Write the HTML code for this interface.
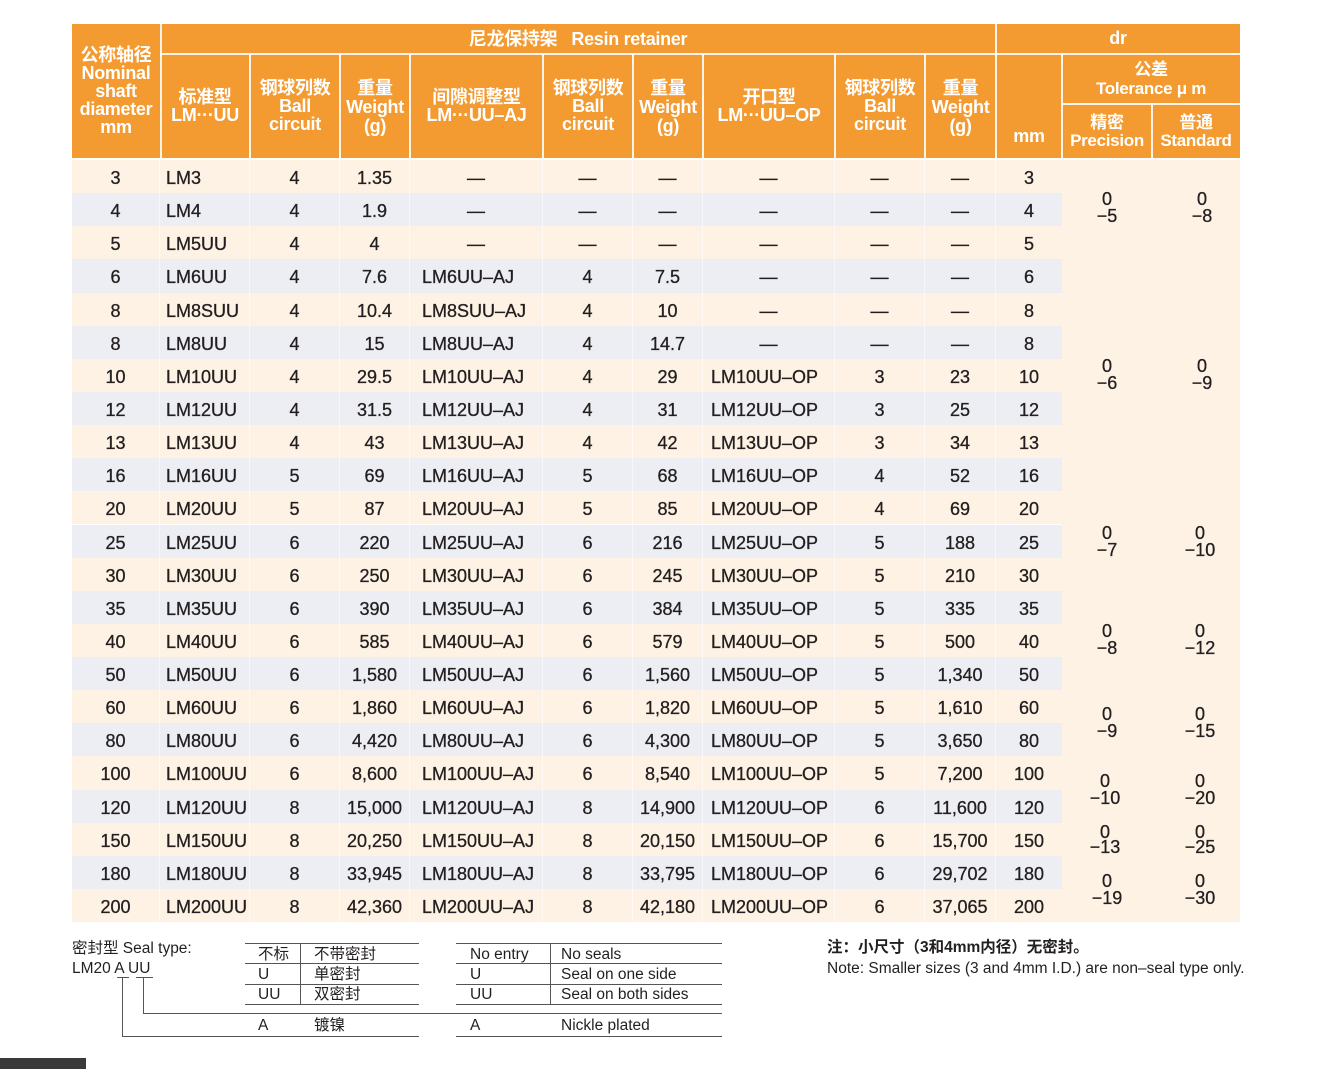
<!DOCTYPE html>
<html><head><meta charset="utf-8">
<style>
*{margin:0;padding:0;box-sizing:border-box}
html,body{width:1320px;height:1069px;background:#fff;overflow:hidden}
body{position:relative;font-family:"Liberation Sans","Noto Sans CJK SC",sans-serif;color:#231f20}
.a{position:absolute}
.hd{position:absolute;left:72px;top:24px;width:1168px;height:134px;background:#f39a30}
.wl{position:absolute;background:rgba(255,255,255,.9)}
.ht{position:absolute;color:#fff;font-weight:bold;font-size:18px;line-height:18px;text-align:center;white-space:nowrap;letter-spacing:-0.3px}
.r{position:absolute;left:72px;width:990px;height:33.14px;display:flex;font-size:18px;line-height:33px;-webkit-text-stroke:0.3px #231f20}
.r>div{flex:none;text-align:center;white-space:nowrap;border-right:1px solid rgba(255,255,255,.55);padding-top:2px}
.o{background:#fdf2e3}
.e{background:#eceef3}
.r>div:nth-child(1){width:88px}
.r>div:nth-child(2){width:90px;text-align:left;padding-left:6px}
.r>div:nth-child(3){width:90px}
.r>div:nth-child(4){width:70px}
.r>div:nth-child(5){width:133px;text-align:left;padding-left:12px}
.r>div:nth-child(6){width:90px}
.r>div:nth-child(7){width:70px}
.r>div:nth-child(8){width:132px;text-align:left;padding-left:8px}
.r>div:nth-child(9){width:90px}
.r>div:nth-child(10){width:71px}
.r>div:nth-child(11){width:66px;border-right:none}
.r>div.d{text-align:center;padding-left:0}
.tol{position:absolute;left:1062px;top:160px;width:178px;height:762px;background:#fdf2e4}
.tv{position:absolute;width:60px;font-size:18px;line-height:17px;text-align:center;-webkit-text-stroke:0.3px #231f20}
.ft{position:absolute;font-size:15.5px;line-height:16px;white-space:nowrap}
.hl{position:absolute;height:1px;background:#555}
.vl{position:absolute;width:1px;background:#555}
</style></head><body>

<div class="hd"></div>
<div class="wl" style="left:160px;top:24px;width:2px;height:134px"></div>
<div class="wl" style="left:160px;top:53px;width:1080px;height:2px"></div>
<div class="wl" style="left:995px;top:24px;width:2px;height:134px"></div>
<div class="wl" style="left:249px;top:54px;width:2px;height:104px"></div>
<div class="wl" style="left:339px;top:54px;width:2px;height:104px"></div>
<div class="wl" style="left:409px;top:54px;width:2px;height:104px"></div>
<div class="wl" style="left:542px;top:54px;width:2px;height:104px"></div>
<div class="wl" style="left:632px;top:54px;width:2px;height:104px"></div>
<div class="wl" style="left:702px;top:54px;width:2px;height:104px"></div>
<div class="wl" style="left:834px;top:54px;width:2px;height:104px"></div>
<div class="wl" style="left:924px;top:54px;width:2px;height:104px"></div>
<div class="wl" style="left:1061px;top:54px;width:2px;height:104px"></div>
<div class="wl" style="left:1062px;top:103px;width:178px;height:2px"></div>
<div class="wl" style="left:1151px;top:104px;width:2px;height:54px"></div>

<div class="ht" style="left:72px;width:88px;top:46px">公称轴径<br>Nominal<br>shaft<br>diameter<br>mm</div>
<div class="ht" style="left:160px;width:836px;top:30px">尼龙保持架&nbsp;&nbsp;&nbsp;Resin retainer</div>
<div class="ht" style="left:996px;width:244px;top:29px">dr</div>
<div class="ht" style="left:160px;width:90px;top:88px">标准型<br>LM···UU</div>
<div class="ht" style="left:250px;width:90px;top:79px">钢球列数<br>Ball<br>circuit</div>
<div class="ht" style="left:340px;width:70px;top:79px;line-height:19px">重量<br>Weight<br>(g)</div>
<div class="ht" style="left:410px;width:133px;top:88px">间隙调整型<br>LM···UU–AJ</div>
<div class="ht" style="left:543px;width:90px;top:79px">钢球列数<br>Ball<br>circuit</div>
<div class="ht" style="left:633px;width:70px;top:79px;line-height:19px">重量<br>Weight<br>(g)</div>
<div class="ht" style="left:703px;width:132px;top:88px">开口型<br>LM···UU–OP</div>
<div class="ht" style="left:835px;width:90px;top:79px">钢球列数<br>Ball<br>circuit</div>
<div class="ht" style="left:925px;width:71px;top:79px;line-height:19px">重量<br>Weight<br>(g)</div>
<div class="ht" style="left:996px;width:66px;top:127px">mm</div>
<div class="ht" style="left:1062px;width:178px;top:60px;line-height:19px;font-size:17px">公差<br>Tolerance μ m</div>
<div class="ht" style="left:1062px;width:90px;top:114px;font-size:17px">精密<br>Precision</div>
<div class="ht" style="left:1152px;width:88px;top:114px;font-size:17px">普通<br>Standard</div>

<div class="tol"></div>

<div class="r o" style="top:160px"><div>3</div><div>LM3</div><div>4</div><div>1.35</div><div class="d">—</div><div>—</div><div>—</div><div class="d">—</div><div>—</div><div>—</div><div>3</div></div>
<div class="r e" style="top:193.14px"><div>4</div><div>LM4</div><div>4</div><div>1.9</div><div class="d">—</div><div>—</div><div>—</div><div class="d">—</div><div>—</div><div>—</div><div>4</div></div>
<div class="r o" style="top:226.27px"><div>5</div><div>LM5UU</div><div>4</div><div>4</div><div class="d">—</div><div>—</div><div>—</div><div class="d">—</div><div>—</div><div>—</div><div>5</div></div>
<div class="r e" style="top:259.41px"><div>6</div><div>LM6UU</div><div>4</div><div>7.6</div><div>LM6UU–AJ</div><div>4</div><div>7.5</div><div class="d">—</div><div>—</div><div>—</div><div>6</div></div>
<div class="r o" style="top:292.55px"><div>8</div><div>LM8SUU</div><div>4</div><div>10.4</div><div>LM8SUU–AJ</div><div>4</div><div>10</div><div class="d">—</div><div>—</div><div>—</div><div>8</div></div>
<div class="r e" style="top:325.68px"><div>8</div><div>LM8UU</div><div>4</div><div>15</div><div>LM8UU–AJ</div><div>4</div><div>14.7</div><div class="d">—</div><div>—</div><div>—</div><div>8</div></div>
<div class="r o" style="top:358.82px"><div>10</div><div>LM10UU</div><div>4</div><div>29.5</div><div>LM10UU–AJ</div><div>4</div><div>29</div><div>LM10UU–OP</div><div>3</div><div>23</div><div>10</div></div>
<div class="r e" style="top:391.95px"><div>12</div><div>LM12UU</div><div>4</div><div>31.5</div><div>LM12UU–AJ</div><div>4</div><div>31</div><div>LM12UU–OP</div><div>3</div><div>25</div><div>12</div></div>
<div class="r o" style="top:425.09px"><div>13</div><div>LM13UU</div><div>4</div><div>43</div><div>LM13UU–AJ</div><div>4</div><div>42</div><div>LM13UU–OP</div><div>3</div><div>34</div><div>13</div></div>
<div class="r e" style="top:458.23px"><div>16</div><div>LM16UU</div><div>5</div><div>69</div><div>LM16UU–AJ</div><div>5</div><div>68</div><div>LM16UU–OP</div><div>4</div><div>52</div><div>16</div></div>
<div class="r o" style="top:491.36px"><div>20</div><div>LM20UU</div><div>5</div><div>87</div><div>LM20UU–AJ</div><div>5</div><div>85</div><div>LM20UU–OP</div><div>4</div><div>69</div><div>20</div></div>
<div class="r e" style="top:524.5px"><div>25</div><div>LM25UU</div><div>6</div><div>220</div><div>LM25UU–AJ</div><div>6</div><div>216</div><div>LM25UU–OP</div><div>5</div><div>188</div><div>25</div></div>
<div class="r o" style="top:557.64px"><div>30</div><div>LM30UU</div><div>6</div><div>250</div><div>LM30UU–AJ</div><div>6</div><div>245</div><div>LM30UU–OP</div><div>5</div><div>210</div><div>30</div></div>
<div class="r e" style="top:590.77px"><div>35</div><div>LM35UU</div><div>6</div><div>390</div><div>LM35UU–AJ</div><div>6</div><div>384</div><div>LM35UU–OP</div><div>5</div><div>335</div><div>35</div></div>
<div class="r o" style="top:623.91px"><div>40</div><div>LM40UU</div><div>6</div><div>585</div><div>LM40UU–AJ</div><div>6</div><div>579</div><div>LM40UU–OP</div><div>5</div><div>500</div><div>40</div></div>
<div class="r e" style="top:657.05px"><div>50</div><div>LM50UU</div><div>6</div><div>1,580</div><div>LM50UU–AJ</div><div>6</div><div>1,560</div><div>LM50UU–OP</div><div>5</div><div>1,340</div><div>50</div></div>
<div class="r o" style="top:690.18px"><div>60</div><div>LM60UU</div><div>6</div><div>1,860</div><div>LM60UU–AJ</div><div>6</div><div>1,820</div><div>LM60UU–OP</div><div>5</div><div>1,610</div><div>60</div></div>
<div class="r e" style="top:723.32px"><div>80</div><div>LM80UU</div><div>6</div><div>4,420</div><div>LM80UU–AJ</div><div>6</div><div>4,300</div><div>LM80UU–OP</div><div>5</div><div>3,650</div><div>80</div></div>
<div class="r o" style="top:756.45px"><div>100</div><div>LM100UU</div><div>6</div><div>8,600</div><div>LM100UU–AJ</div><div>6</div><div>8,540</div><div>LM100UU–OP</div><div>5</div><div>7,200</div><div>100</div></div>
<div class="r e" style="top:789.59px"><div>120</div><div>LM120UU</div><div>8</div><div>15,000</div><div>LM120UU–AJ</div><div>8</div><div>14,900</div><div>LM120UU–OP</div><div>6</div><div>11,600</div><div>120</div></div>
<div class="r o" style="top:822.73px"><div>150</div><div>LM150UU</div><div>8</div><div>20,250</div><div>LM150UU–AJ</div><div>8</div><div>20,150</div><div>LM150UU–OP</div><div>6</div><div>15,700</div><div>150</div></div>
<div class="r e" style="top:855.86px"><div>180</div><div>LM180UU</div><div>8</div><div>33,945</div><div>LM180UU–AJ</div><div>8</div><div>33,795</div><div>LM180UU–OP</div><div>6</div><div>29,702</div><div>180</div></div>
<div class="r o" style="top:889px"><div>200</div><div>LM200UU</div><div>8</div><div>42,360</div><div>LM200UU–AJ</div><div>8</div><div>42,180</div><div>LM200UU–OP</div><div>6</div><div>37,065</div><div>200</div></div>

<div class="tv" style="left:1077px;top:191px">0<br>−5</div>
<div class="tv" style="left:1172px;top:191px">0<br>−8</div>
<div class="tv" style="left:1077px;top:358px">0<br>−6</div>
<div class="tv" style="left:1172px;top:358px">0<br>−9</div>
<div class="tv" style="left:1077px;top:525px">0<br>−7</div>
<div class="tv" style="left:1170px;top:525px">0<br>−10</div>
<div class="tv" style="left:1077px;top:623px">0<br>−8</div>
<div class="tv" style="left:1170px;top:623px">0<br>−12</div>
<div class="tv" style="left:1077px;top:706px">0<br>−9</div>
<div class="tv" style="left:1170px;top:706px">0<br>−15</div>
<div class="tv" style="left:1075px;top:773px">0<br>−10</div>
<div class="tv" style="left:1170px;top:773px">0<br>−20</div>
<div class="tv" style="left:1075px;top:825px;line-height:15px">0<br>−13</div>
<div class="tv" style="left:1170px;top:825px;line-height:15px">0<br>−25</div>
<div class="tv" style="left:1077px;top:873px">0<br>−19</div>
<div class="tv" style="left:1170px;top:873px">0<br>−30</div>

<div class="ft" style="left:72px;top:941px">密封型 Seal type:</div>
<div class="ft" style="left:72px;top:961px">LM20 A UU</div>
<div class="hl" style="left:117px;top:977px;width:12px"></div>
<div class="hl" style="left:136px;top:977px;width:17px"></div>
<div class="vl" style="left:122px;top:977px;height:59px"></div>
<div class="vl" style="left:143px;top:977px;height:36px"></div>
<div class="hl" style="left:143px;top:1013px;width:579px"></div>
<div class="hl" style="left:122px;top:1036px;width:297px"></div>
<div class="hl" style="left:456px;top:1036px;width:266px"></div>

<div class="hl" style="left:245px;top:943px;width:174px"></div>
<div class="hl" style="left:245px;top:963px;width:174px"></div>
<div class="hl" style="left:245px;top:984px;width:174px"></div>
<div class="hl" style="left:245px;top:1004px;width:174px"></div>
<div class="vl" style="left:300px;top:943px;height:61px"></div>
<div class="hl" style="left:456px;top:943px;width:266px"></div>
<div class="hl" style="left:456px;top:963px;width:266px"></div>
<div class="hl" style="left:456px;top:984px;width:266px"></div>
<div class="hl" style="left:456px;top:1004px;width:266px"></div>
<div class="vl" style="left:550px;top:943px;height:61px"></div>

<div class="ft" style="left:258px;top:947px">不标</div>
<div class="ft" style="left:314px;top:947px">不带密封</div>
<div class="ft" style="left:258px;top:967px">U</div>
<div class="ft" style="left:314px;top:967px">单密封</div>
<div class="ft" style="left:258px;top:987px">UU</div>
<div class="ft" style="left:314px;top:987px">双密封</div>
<div class="ft" style="left:258px;top:1018px">A</div>
<div class="ft" style="left:314px;top:1018px">镀镍</div>

<div class="ft" style="left:470px;top:947px">No entry</div>
<div class="ft" style="left:561px;top:947px">No seals</div>
<div class="ft" style="left:470px;top:967px">U</div>
<div class="ft" style="left:561px;top:967px">Seal on one side</div>
<div class="ft" style="left:470px;top:987px">UU</div>
<div class="ft" style="left:561px;top:987px">Seal on both sides</div>
<div class="ft" style="left:470px;top:1018px">A</div>
<div class="ft" style="left:561px;top:1018px">Nickle plated</div>

<div class="ft" style="left:827px;top:940px;font-weight:bold">注：小尺寸（3和4mm内径）无密封。</div>
<div class="ft" style="left:827px;top:961px">Note: Smaller sizes (3 and 4mm I.D.) are non–seal type only.</div>

<div class="a" style="left:0;top:1058px;width:86px;height:11px;background:#3a3a3a"></div>
</body></html>
